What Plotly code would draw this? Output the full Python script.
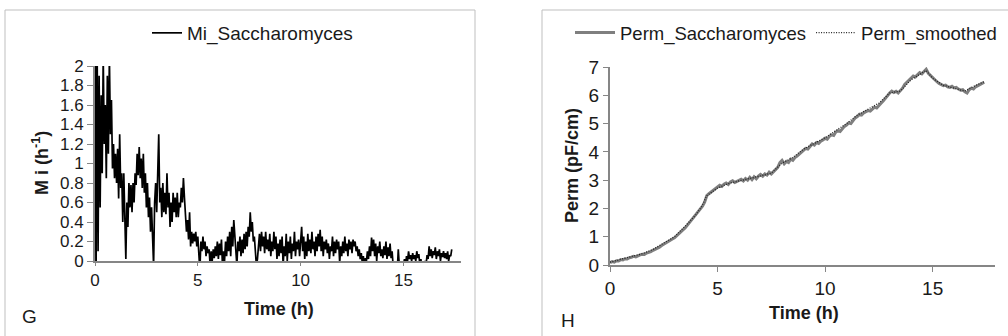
import plotly.graph_objects as go

# ---------------- data ----------------
# Panel G: specific growth rate, sampled every 0.05 h
mi_step = 0.05
mi_values = [
    # 0 - 1 h
    2.5, -0.3, 2.4, 0.1, 1.9, 0.55, 1.7, 0.9, 2.1, 1.2, 1.6, 0.85, 1.9, 1.1, 2.1, 1.3, 1.65, 0.95, 1.2, 0.85,
    # 1 - 2 h
    1.1, 0.8, 1.15, 0.64, 1.3, 0.75, 0.9, 0.4, 0.9, 0.45, 0.02, 0.6, 0.35, 0.8, 0.55, 0.78, 0.5, 0.8, 0.6, 0.9,
    # 2 - 3 h
    0.78, 1.1, 0.88, 1.17, 0.85, 1.05, 0.75, 1.1, 0.7, 0.9, 0.55, 0.8, 0.45, 0.65, 0.3, 0.55, 0.2, -0.05, 0.6, 0.8,
    # 3 - 4 h
    0.5, 0.85, 1.3, 0.6, 0.75, 0.45, 0.8, 0.5, 0.7, 0.48, 0.9, 0.55, 0.7, 0.35, 0.6, 0.4, 0.7, 0.5, 0.65, 0.45,
    # 4 - 5 h
    0.7, 0.45, 0.6, 0.55, 0.75, 0.6, 0.85, 0.65, 0.5, 0.3, 0.42, 0.22, 0.5, 0.15, 0.3, 0.18, 0.28, 0.2, 0.3, 0.15,
    # 5 - 6 h
    0.25, 0.05, -0.1, 0.2, 0.1, 0.25, 0.12, 0.2, 0.05, 0.15, 0.08, 0.12, -0.05, 0.1, 0.0, 0.12, 0.03, 0.15, 0.05, 0.2,
    # 6 - 7 h
    0.02, 0.18, 0.06, 0.22, -0.05, 0.1, 0.0, 0.2, 0.05, 0.25, 0.1, 0.3, 0.05, 0.35, 0.15, 0.42, 0.2, 0.05, -0.05, 0.2,
    # 7 - 8 h
    0.1, 0.25, 0.05, 0.22, 0.08, 0.28, 0.12, 0.3, 0.15, 0.35, 0.25, 0.5, 0.3, 0.4, 0.2, 0.25, 0.05, -0.05, 0.02, 0.15,
    # 8 - 9 h
    0.28, 0.1, 0.3, 0.15, 0.25, 0.08, 0.3, 0.12, 0.22, 0.1, 0.28, 0.05, 0.2, 0.1, 0.3, 0.12, 0.25, 0.02, 0.18, 0.05,
    # 9 - 10 h
    0.22, 0.08, 0.25, -0.05, 0.15, 0.05, 0.28, 0.0, 0.2, 0.08, 0.25, 0.02, 0.18, 0.1, 0.3, 0.05, 0.2, 0.12, 0.22, 0.05,
    # 10 - 11 h
    0.2, 0.35, 0.1, 0.25, 0.02, 0.2, 0.05, 0.28, 0.1, 0.22, 0.08, 0.3, 0.12, 0.2, 0.05, 0.25, 0.1, 0.28, 0.15, 0.32,
    # 11 - 12 h
    0.1, 0.25, 0.05, 0.2, 0.12, 0.22, 0.08, 0.18, 0.02, 0.15, 0.1, 0.25, 0.05, 0.2, 0.08, 0.22, 0.12, 0.2, -0.02, 0.15,
    # 12 - 13 h
    0.05, 0.2, 0.08, 0.25, 0.1, 0.18, 0.05, 0.22, 0.12, 0.2, 0.08, 0.22, 0.15, 0.2, 0.1, 0.15, 0.05, 0.12, 0.02, 0.08,
    # 13 - 14 h
    -0.02, 0.05, -0.05, 0.03, 0.0, 0.1, 0.02, 0.15, 0.05, 0.24, 0.1, 0.22, 0.05, 0.18, 0.0, 0.15, 0.08, 0.2, 0.05, 0.12,
    # 14 - 15 h
    0.03, 0.15, 0.06, 0.2, 0.02, 0.14, 0.05, 0.18, 0.03, 0.1, -0.05, -0.1, -0.08, -0.05, -0.1, 0.12, -0.05, -0.1, -0.06, -0.08,
    # 15 - 16 h
    -0.05, 0.02, -0.05, 0.05, 0.0, 0.1, 0.02, 0.06, 0.0, 0.08, 0.02, 0.06, 0.0, 0.1, 0.03, 0.07, -0.05, 0.02, -0.08, -0.03,
    # 16 - 17 h
    -0.05, 0.0, -0.04, 0.06, 0.02, 0.15, 0.05, 0.12, 0.03, 0.1, 0.06, 0.14, 0.02, 0.1, 0.05, 0.12, 0.0, 0.08, 0.04, 0.1,
    # 17 - 17.35 h
    0.03, 0.08, 0.02, 0.1, 0.0, 0.06, 0.05, 0.12,
]
mi_time = [round(i * mi_step, 2) for i in range(len(mi_values))]

# Panel H: permittivity (raw), sampled every 0.1 h
perm_step = 0.1
perm_values = [
    0.08, 0.12, 0.10, 0.15, 0.14, 0.19, 0.18, 0.22, 0.21, 0.26,
    0.27, 0.31, 0.29, 0.34, 0.36, 0.38, 0.37, 0.42, 0.44, 0.47,
    0.52, 0.55, 0.60, 0.63, 0.69, 0.74, 0.80, 0.83, 0.88, 0.92,
    0.96, 1.03, 1.08, 1.16, 1.24, 1.32, 1.41, 1.50, 1.60, 1.68,
    1.77, 1.86, 1.96, 2.08, 2.22, 2.45, 2.52, 2.58, 2.65, 2.68,
    2.75, 2.82, 2.78, 2.86, 2.90, 2.85, 2.94, 2.98, 2.92, 2.97,
    2.99, 3.03, 2.97, 3.06, 3.00, 3.10, 3.02, 3.12, 3.05, 3.14,
    3.20, 3.14, 3.22, 3.18, 3.28, 3.22, 3.30, 3.36, 3.45, 3.62,
    3.70, 3.58, 3.66, 3.62, 3.74, 3.70, 3.80, 3.85, 3.92, 4.00,
    4.05, 4.12, 4.10, 4.20, 4.28, 4.24, 4.33, 4.30, 4.38, 4.42,
    4.48, 4.45, 4.55, 4.60, 4.58, 4.70, 4.75, 4.72, 4.82, 4.90,
    4.95, 5.02, 5.00, 5.12, 5.20, 5.25, 5.33, 5.30, 5.38, 5.42,
    5.46, 5.44, 5.52, 5.58, 5.55, 5.65, 5.72, 5.80, 5.88, 5.98,
    6.08, 6.15, 6.10, 6.14, 6.08, 6.15, 6.25, 6.38, 6.45, 6.55,
    6.60, 6.68, 6.65, 6.72, 6.80, 6.76, 6.85, 6.92, 6.78, 6.70,
    6.62, 6.55, 6.48, 6.42, 6.38, 6.34, 6.36, 6.30, 6.28, 6.32,
    6.26, 6.28, 6.22, 6.18, 6.20, 6.12, 6.08, 6.20, 6.25, 6.22,
    6.30, 6.35, 6.38, 6.42, 6.46,
]
perm_time = [round(i * perm_step, 2) for i in range(len(perm_values))]

# Panel H: smoothed permittivity
smooth_time = [0, 0.5, 1.0, 1.5, 2.0, 2.5, 3.0, 3.5, 4.0, 4.25, 4.5, 5.0, 5.5, 6.0, 6.5, 7.0, 7.5,
               8.0, 8.5, 9.0, 9.5, 10.0, 10.5, 11.0, 11.5, 12.0, 12.5, 13.0, 13.5, 14.0, 14.5,
               14.7, 15.0, 15.5, 16.0, 16.5, 17.0, 17.4]
smooth_values = [0.1, 0.2, 0.3, 0.4, 0.55, 0.78, 1.0, 1.38, 1.78, 2.05, 2.45, 2.72, 2.88, 2.97, 3.05, 3.15, 3.25,
                 3.6, 3.8, 4.1, 4.3, 4.5, 4.75, 5.0, 5.3, 5.5, 5.72, 6.08, 6.15, 6.55, 6.8,
                 6.88, 6.6, 6.35, 6.25, 6.15, 6.35, 6.48]

x_ticks = [0, 5, 10, 15]
mi_ticks = [0, 0.2, 0.4, 0.6, 0.8, 1, 1.2, 1.4, 1.6, 1.8, 2]
mi_tick_labels = ["0", "0.2", "0.4", "0.6", "0.8", "1", "1.2", "1.4", "1.6", "1.8", "2"]
perm_ticks = [0, 1, 2, 3, 4, 5, 6, 7]

# ---------------- figure ----------------
W, H = 1008, 336
FONT = "Liberation Sans, Arial, sans-serif"
AXIS_GREY = "#868686"
TEXT = "#1a1a1a"


def px_x(p):
    return p / W


def px_y(p):
    return 1 - p / H


fig = go.Figure()

fig.add_trace(go.Scatter(
    x=mi_time, y=mi_values, mode="lines", name="Mi_Saccharomyces",
    line=dict(color="black", width=1.7), xaxis="x", yaxis="y", legend="legend",
))
fig.add_trace(go.Scatter(
    x=perm_time, y=perm_values, mode="lines", name="Perm_Saccharomyces",
    line=dict(color="#7f7f7f", width=3), xaxis="x2", yaxis="y2", legend="legend2",
))
fig.add_trace(go.Scatter(
    x=smooth_time, y=smooth_values, mode="lines", name="Perm_smoothed",
    line=dict(color="#222222", width=1.3, dash="1px,1.5px"), xaxis="x2", yaxis="y2", legend="legend2",
))

common_axis = dict(
    showgrid=False, zeroline=False, showline=True, linecolor=AXIS_GREY, linewidth=2,
    ticks="outside", tickcolor=AXIS_GREY, tickwidth=1, automargin=False,
)

fig.update_layout(
    width=W, height=H,
    margin=dict(l=0, r=0, t=0, b=0, pad=0, autoexpand=False),
    paper_bgcolor="white", plot_bgcolor="white",
    font=dict(family=FONT, color=TEXT),
    xaxis=dict(domain=[px_x(95), px_x(461)], range=[0, 17.8], tickvals=x_ticks, ticklen=3,
               tickfont=dict(size=17), anchor="y", **common_axis),
    yaxis=dict(domain=[px_y(261), px_y(66)], range=[0, 2], tickvals=mi_ticks, ticktext=mi_tick_labels,
               ticklen=6, tickfont=dict(size=17), anchor="x", layer="below traces", **common_axis),
    xaxis2=dict(domain=[px_x(610), px_x(995)], range=[0, 17.9], tickvals=x_ticks, ticklen=5,
                tickfont=dict(size=19), anchor="y2", **common_axis),
    yaxis2=dict(domain=[px_y(265), px_y(67)], range=[0, 7], tickvals=perm_ticks, ticklen=5,
                tickfont=dict(size=19), anchor="x2", **common_axis),
    legend=dict(orientation="h", x=px_x(147), xanchor="left", y=px_y(33), yanchor="middle",
                font=dict(size=19, family=FONT, color=TEXT), bgcolor="rgba(0,0,0,0)"),
    legend2=dict(orientation="h", x=px_x(570), xanchor="left", y=px_y(33), yanchor="middle",
                 itemwidth=40,
                 font=dict(size=18.5, family=FONT, color=TEXT), bgcolor="rgba(0,0,0,0)"),
    showlegend=True,
)

# panel frames
fig.add_shape(type="rect", xref="paper", yref="paper", x0=px_x(5), x1=px_x(475), y0=px_y(340), y1=px_y(10),
              line=dict(color="#bfbfbf", width=1), fillcolor="rgba(0,0,0,0)", layer="below")
fig.add_shape(type="rect", xref="paper", yref="paper", x0=px_x(542), x1=px_x(1012), y0=px_y(340), y1=px_y(10),
              line=dict(color="#bfbfbf", width=1), fillcolor="rgba(0,0,0,0)", layer="below")

annotations = [
    dict(text="<b>Time (h)</b>", x=px_x(279), y=px_y(309), font=dict(size=18)),
    dict(text="<b>M i (h<sup>-1</sup>)</b>", x=px_x(40), y=px_y(163), textangle=-90, font=dict(size=18)),
    dict(text="G", x=px_x(29), y=px_y(316), font=dict(size=19)),
    dict(text="<b>Time (h)</b>", x=px_x(804), y=px_y(313), font=dict(size=18)),
    dict(text="<b>Perm (pF/cm)</b>", x=px_x(572), y=px_y(166), textangle=-90, font=dict(size=18)),
    dict(text="H", x=px_x(568), y=px_y(320), font=dict(size=19)),
]
for a in annotations:
    fig.add_annotation(xref="paper", yref="paper", showarrow=False, xanchor="center", yanchor="middle",
                       font_family=FONT, font_color=TEXT, **{k: v for k, v in a.items()})

fig.write_html("out.html", config={"displayModeBar": False},
               post_script="document.body.style.margin='0';document.body.style.overflow='hidden';")
